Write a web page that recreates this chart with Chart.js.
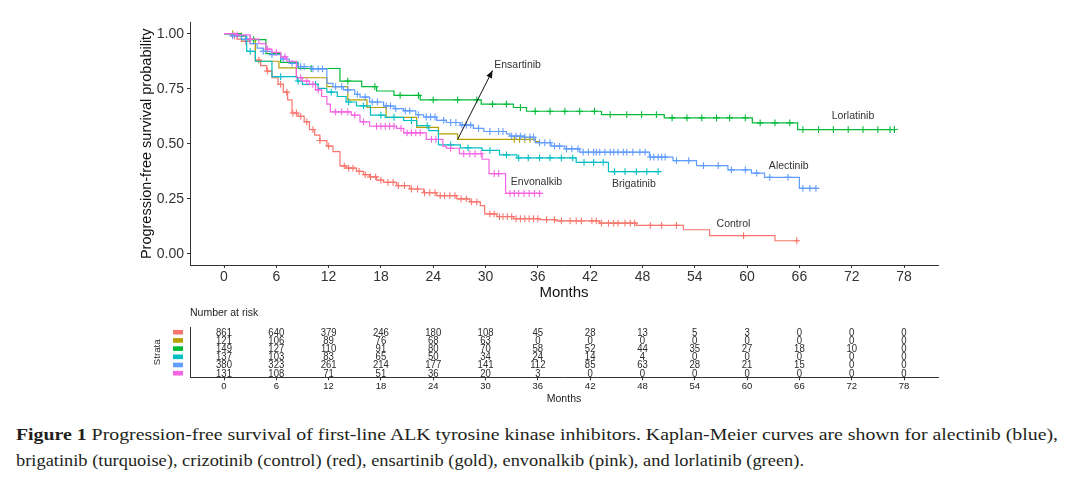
<!DOCTYPE html>
<html><head><meta charset="utf-8">
<script src="https://cdn.jsdelivr.net/npm/chart.js@4.4.1/dist/chart.umd.min.js"></script>
<style>
html,body{margin:0;padding:0;background:#fff;width:1080px;height:477px;overflow:hidden;position:relative}
#c1{position:absolute;left:0;top:0}
#c2{position:absolute;left:0;top:300px}
.cap{position:absolute;left:16px;font-family:"Liberation Serif","DejaVu Serif",serif;font-size:17px;line-height:20px;color:#231f20;white-space:nowrap;display:inline-block;transform-origin:0 50%}
.cap b{font-weight:bold}
</style></head>
<body>
<canvas id="c1" width="1080" height="305"></canvas>
<canvas id="c2" width="1080" height="110"></canvas>
<div class="cap" id="cap1" style="top:425px"><b>Figure 1</b> Progression-free survival of first-line ALK tyrosine kinase inhibitors. Kaplan-Meier curves are shown for alectinib (blue),</div>
<div class="cap" id="cap2" style="top:451px">brigatinib (turquoise), crizotinib (control) (red), ensartinib (gold), envonalkib (pink), and lorlatinib (green).</div>
<script>
// ---------- DATA ----------
const xTicks = [0,6,12,18,24,30,36,42,48,54,60,66,72,78];
const yTicks = [0,0.25,0.5,0.75,1];
const strata = ['Control','Ensartinib','Lorlatinib','Brigatinib','Alectinib','Envonalkib'];

const ctrlT = [0,0.8,1.5,2.0,3.0,3.6,4.2,4.9,5.5,6.2,6.8,7.3,7.8,8.5,9.2,9.8,10.4,11.0,11.8,12.5,13.3,14.0,15.2,16.0,16.7,17.5,18.3,19.8,21.3,22.9,24.4,26.7,28.2,29.4,29.9,31.3,33.2,36.2,38.1,43.1,47.3,52.7,55.7,63.2];
const ctrlS = [1,0.99,0.975,0.965,0.955,0.88,0.855,0.83,0.80,0.77,0.735,0.70,0.64,0.625,0.60,0.565,0.54,0.515,0.49,0.465,0.40,0.39,0.375,0.36,0.35,0.335,0.325,0.31,0.295,0.278,0.265,0.25,0.237,0.22,0.182,0.17,0.16,0.156,0.15,0.14,0.13,0.11,0.083,0.06];
const ctrlEnd = 65.9;
const ctrlC = [1.2,2.5,4.0,5.0,6.5,7.2,7.9,8.3,8.8,9.5,10.2,11.0,12.0,13.8,14.3,14.8,15.5,16.2,16.8,17.4,18.0,18.8,19.4,20.0,20.7,21.5,22.2,23.0,23.6,24.2,24.8,25.3,25.9,26.5,27.2,27.8,28.4,29.0,30.5,31.0,31.6,32.0,32.5,33.0,33.5,34.0,34.5,35.0,35.5,36.0,37.0,37.9,38.7,39.7,40.4,41.0,42.2,42.7,43.3,44.1,44.7,45.2,46.0,46.6,47.1,48.9,50.2,51.9,59.6,65.7];

const ensT = [0,1.5,2.5,3.6,6.3,8.3,11.8,14.2,16.4,18.6,22.1,24.6,26.8,35.7];
const ensS = [1,0.99,0.975,0.875,0.845,0.80,0.76,0.70,0.665,0.62,0.575,0.545,0.52,0.51];
const ensEnd = 36.2;
const ensC = [1.0,2.0,33.3,33.9,34.5,35.1];

const lorT = [0,2.0,4.8,6.5,8.5,13.3,15.8,17.5,19.5,22.5,29.5,33.2,34.7,43.3,50.5,60.6,65.8];
const lorS = [1,0.973,0.91,0.87,0.842,0.785,0.76,0.74,0.72,0.70,0.68,0.665,0.648,0.633,0.618,0.595,0.565];
const lorEnd = 77.0;
const lorC = [3.4,10.0,14.2,17.3,20.2,22.3,24.0,26.8,29.0,30.8,32.4,34.0,35.7,37.4,39.1,40.8,42.5,44.3,46.2,47.9,49.6,51.4,53.1,54.8,56.5,58.0,59.8,61.5,63.2,64.9,66.4,68.2,69.9,71.6,73.3,75.0,76.4,76.9];

const briT = [0,1.5,2.6,3.6,5.5,8.4,9.0,10.8,11.8,13.0,14.0,15.2,16.8,18.5,20.6,22.1,23.5,24.6,27.1,29.6,31.6,33.6,40.4,44.1];
const briS = [1,0.99,0.92,0.875,0.805,0.785,0.77,0.752,0.735,0.715,0.69,0.672,0.63,0.62,0.606,0.583,0.56,0.495,0.482,0.47,0.45,0.436,0.416,0.374];
const briEnd = 49.8;
const briC = [3.0,6.5,8.5,10.5,12.3,14.3,16.0,18.0,19.5,21.5,23.3,26.0,28.0,30.5,32.4,33.8,34.9,36.2,37.4,38.7,40.0,41.3,42.4,43.5,44.8,46.0,47.3,48.5,49.8];

const aleT = [0,1,2,3,3.8,4.5,5.5,6.5,7.5,8.5,10,11.8,12.5,13.7,15,15.6,16.7,18.3,19.5,20.6,22,22.9,24.4,25.5,27.1,28.6,29.8,32.4,32.8,34.5,35.7,37.5,39.1,40.8,48.8,51.5,54.2,57.8,60.5,62,66];
const aleS = [1,0.99,0.975,0.955,0.935,0.92,0.905,0.885,0.865,0.85,0.84,0.775,0.76,0.745,0.725,0.712,0.69,0.672,0.66,0.65,0.632,0.622,0.607,0.597,0.585,0.57,0.556,0.545,0.535,0.53,0.505,0.49,0.477,0.462,0.44,0.424,0.401,0.382,0.367,0.348,0.298];
const aleEnd = 67.9;
const aleC = [1.0,2.5,4.5,5.5,6.8,7.8,8.8,9.2,10.2,10.8,11.3,12.8,13.5,14.2,15.3,16.2,17.0,17.6,18.6,19.1,19.7,20.8,21.3,22.3,23.2,23.7,24.2,25.2,26.0,26.6,27.3,27.8,28.3,29.2,30.5,31.5,32.0,33.0,33.5,34.0,34.5,35.1,35.5,36.2,36.8,37.4,37.9,38.5,39.3,39.9,40.6,41.2,41.8,42.4,42.7,43.1,43.7,44.3,44.7,45.2,45.8,46.2,46.9,47.7,48.3,48.9,49.3,49.8,50.2,50.6,51.9,53.3,55.0,56.7,58.2,59.8,61.1,62.6,64.7,66.4,67.2,67.9];

const envT = [0,1.5,3,4,4.8,5.5,6.5,7.2,8.3,9,9.8,10.5,11.2,11.8,12.2,14.6,15.6,16.7,19.8,20.6,23.2,25.1,25.5,27,29.6,30.4,32.3];
const envS = [1,0.995,0.975,0.955,0.93,0.915,0.895,0.875,0.80,0.785,0.77,0.745,0.715,0.68,0.645,0.63,0.60,0.58,0.57,0.55,0.52,0.49,0.48,0.455,0.43,0.365,0.275];
const envEnd = 36.4;
const envC = [1.5,3.0,5.0,6.0,7.0,8.8,9.5,10.2,10.8,12.8,13.5,14.2,15.0,16.0,17.5,18.0,18.5,19.0,19.5,20.3,21.0,21.5,22.0,22.5,23.8,24.3,26.0,27.5,28.2,28.8,29.5,31.0,31.5,32.8,33.3,33.8,34.4,35.0,35.6,36.2];

// number at risk (rows follow strata order)
const riskCtrl = [861,640,379,246,180,108,45,28,13,5,3,0,0,0];
const riskEns  = [121,106,89,76,68,63,0,0,0,0,0,0,0,0];
const riskLor  = [149,127,110,91,80,70,58,52,44,35,27,18,10,0];
const riskBri  = [137,103,83,65,50,34,24,14,4,0,0,0,0,0];
const riskAle  = [380,323,261,214,177,141,112,85,63,28,21,15,0,0];
const riskEnv  = [131,108,71,51,36,20,3,0,0,0,0,0,0,0];

// curve labels: [text, x (months), y (probability)]
const curveLabels = [
  ['Ensartinib',31.0,0.856],
  ['Envonalkib',32.9,0.325],
  ['Brigatinib',44.5,0.318],
  ['Alectinib',62.5,0.397],
  ['Lorlatinib',69.7,0.624],
  ['Control',56.5,0.136]
];
const arrowFrom = [26.8,0.52];
const arrowTo = [30.8,0.833];

// ---------- BUILD ----------
const colors = {Control:'#F8766D',Ensartinib:'#B79F00',Lorlatinib:'#00BA38',Brigatinib:'#00BFC4',Alectinib:'#619CFF',Envonalkib:'#F564E3'};
const series = [
  ['Control',ctrlT,ctrlS,ctrlEnd,ctrlC],
  ['Ensartinib',ensT,ensS,ensEnd,ensC],
  ['Lorlatinib',lorT,lorS,lorEnd,lorC],
  ['Brigatinib',briT,briS,briEnd,briC],
  ['Alectinib',aleT,aleS,aleEnd,aleC],
  ['Envonalkib',envT,envS,envEnd,envC]
];
const risk = [riskCtrl,riskEns,riskLor,riskBri,riskAle,riskEnv];

function stepData(T,S,end){const d=T.map((t,i)=>({x:t,y:S[i]}));d.push({x:end,y:S[S.length-1]});return d;}
function survAt(T,S,t){let v=S[0];for(let i=0;i<T.length;i++){if(T[i]<=t)v=S[i];else break;}return v;}

const datasets=[];
series.forEach((s,i)=>{
  const [name,T,S,end,C]=s; const col=colors[name];
  datasets.push({label:name,data:stepData(T,S,end),stepped:'before',borderColor:col,borderWidth:1.2,pointRadius:0,fill:false,order:10-i});
  datasets.push({label:name+' censored',data:C.map(t=>({x:t,y:survAt(T,S,t)})),showLine:false,pointStyle:'cross',pointRadius:3.4,pointBorderWidth:1.1,borderColor:col,pointBorderColor:col,order:10-i});
});

const FONT='"Liberation Sans", Arial, Helvetica, sans-serif';
Chart.defaults.font.family=FONT;
Chart.defaults.animation=false;

const labelPlugin={id:'curveLabels',afterDatasetsDraw(chart){
  const {ctx,scales:{x,y}}=chart; ctx.save();
  ctx.font='10.5px '+FONT; ctx.fillStyle='#333'; ctx.textAlign='left'; ctx.textBaseline='middle';
  curveLabels.forEach(l=>ctx.fillText(l[0],x.getPixelForValue(l[1]),y.getPixelForValue(l[2])));
  const x0=x.getPixelForValue(arrowFrom[0]),y0=y.getPixelForValue(arrowFrom[1]);
  const x1=x.getPixelForValue(arrowTo[0]),y1=y.getPixelForValue(arrowTo[1]);
  ctx.strokeStyle='#111'; ctx.fillStyle='#111'; ctx.lineWidth=1;
  ctx.beginPath(); ctx.moveTo(x0,y0); ctx.lineTo(x1,y1); ctx.stroke();
  const a=Math.atan2(y1-y0,x1-x0), L=8, w=0.4;
  ctx.beginPath(); ctx.moveTo(x1,y1);
  ctx.lineTo(x1-L*Math.cos(a-w),y1-L*Math.sin(a-w));
  ctx.lineTo(x1-L*Math.cos(a+w),y1-L*Math.sin(a+w));
  ctx.closePath(); ctx.fill();
  ctx.restore();
}};

new Chart(document.getElementById('c1'),{
  type:'line',
  data:{datasets},
  options:{
    responsive:false, animation:false, devicePixelRatio:1,
    layout:{padding:{left:138,right:142,top:22.7,bottom:3.3}},
    plugins:{legend:{display:false},tooltip:{enabled:false}},
    events:[],
    scales:{
      x:{type:'linear',min:-3.9,max:81.9,
        afterBuildTicks:s=>{s.ticks=xTicks.map(v=>({value:v}));},
        afterFit:s=>{s.height=36.7;},
        grid:{display:true,drawOnChartArea:false,drawTicks:true,tickLength:3,color:'#333',lineWidth:1},
        border:{display:true,color:'#333',width:1},
        ticks:{color:'#333',font:{size:14},padding:1,maxRotation:0,autoSkip:false},
        title:{display:true,text:'Months',color:'#111',font:{size:15},padding:0}
      },
      y:{type:'linear',min:-0.05,max:1.05,
        afterBuildTicks:s=>{s.ticks=yTicks.map(v=>({value:v}));},
        afterFit:s=>{s.width=52;},
        grid:{display:true,drawOnChartArea:false,drawTicks:true,tickLength:3,color:'#333',lineWidth:1},
        border:{display:true,color:'#333',width:1},
        ticks:{color:'#333',font:{size:14},padding:3,callback:v=>Number(v).toFixed(2)},
        title:{display:true,text:'Progression-free survival probability',color:'#111',font:{size:14.5},padding:0}
      }
    }
  },
  plugins:[labelPlugin]
});

const riskPlugin={id:'riskTable',afterDraw(chart){
  const {ctx,scales:{x,y},chartArea}=chart; ctx.save();
  ctx.font='10.5px '+FONT; ctx.fillStyle='#222'; ctx.textAlign='left'; ctx.textBaseline='middle';
  ctx.fillText('Number at risk',chartArea.left,13.3);
  ctx.font='10.6px '+FONT; ctx.textAlign='center';
  risk.forEach((row,r)=>{
    const py=y.getPixelForValue(r);
    row.forEach((n,j)=>{
      const px=x.getPixelForValue(xTicks[j]);
      ctx.save(); ctx.translate(px,py); ctx.scale(0.9,1); ctx.fillStyle='#2a2a2a'; ctx.fillText(String(n),0,0.5); ctx.restore();
    });
    ctx.fillStyle=colors[strata[r]];
    ctx.fillRect(chartArea.left-17,py-2.3,10,4.6);
  });
  ctx.restore();
}};

new Chart(document.getElementById('c2'),{
  type:'line',
  data:{datasets:[]},
  options:{
    responsive:false, animation:false, devicePixelRatio:1,
    layout:{padding:{left:152,right:142,top:27.3,bottom:4.4}},
    plugins:{legend:{display:false},tooltip:{enabled:false}},
    events:[],
    scales:{
      x:{type:'linear',min:-3.9,max:81.9,
        afterBuildTicks:s=>{s.ticks=xTicks.map(v=>({value:v}));},
        afterFit:s=>{s.height=28.3;},
        grid:{display:true,drawOnChartArea:false,drawTicks:true,tickLength:3,color:'#333',lineWidth:1},
        border:{display:true,color:'#333',width:1},
        ticks:{color:'#222',font:{size:9.5},padding:0.5,maxRotation:0,autoSkip:false},
        title:{display:true,text:'Months',color:'#222',font:{size:10.5},padding:0}
      },
      y:{type:'linear',min:-0.6,max:5.5,reverse:true,
        afterBuildTicks:s=>{s.ticks=[0,1,2,3,4,5].map(v=>({value:v}));},
        afterFit:s=>{s.width=38;},
        grid:{display:false},
        border:{display:true,color:'#333',width:1},
        ticks:{display:false},
        title:{display:true,text:'Strata',color:'#222',font:{size:9.7},padding:0}
      }
    }
  },
  plugins:[riskPlugin]
});

// fit caption lines to the reference widths
[['cap1',1042],['cap2',788]].forEach(([id,w])=>{
  const el=document.getElementById(id); const cw=el.getBoundingClientRect().width;
  if(cw>0) el.style.transform='scaleX('+(w/cw)+')';
});
</script>
</body></html>
